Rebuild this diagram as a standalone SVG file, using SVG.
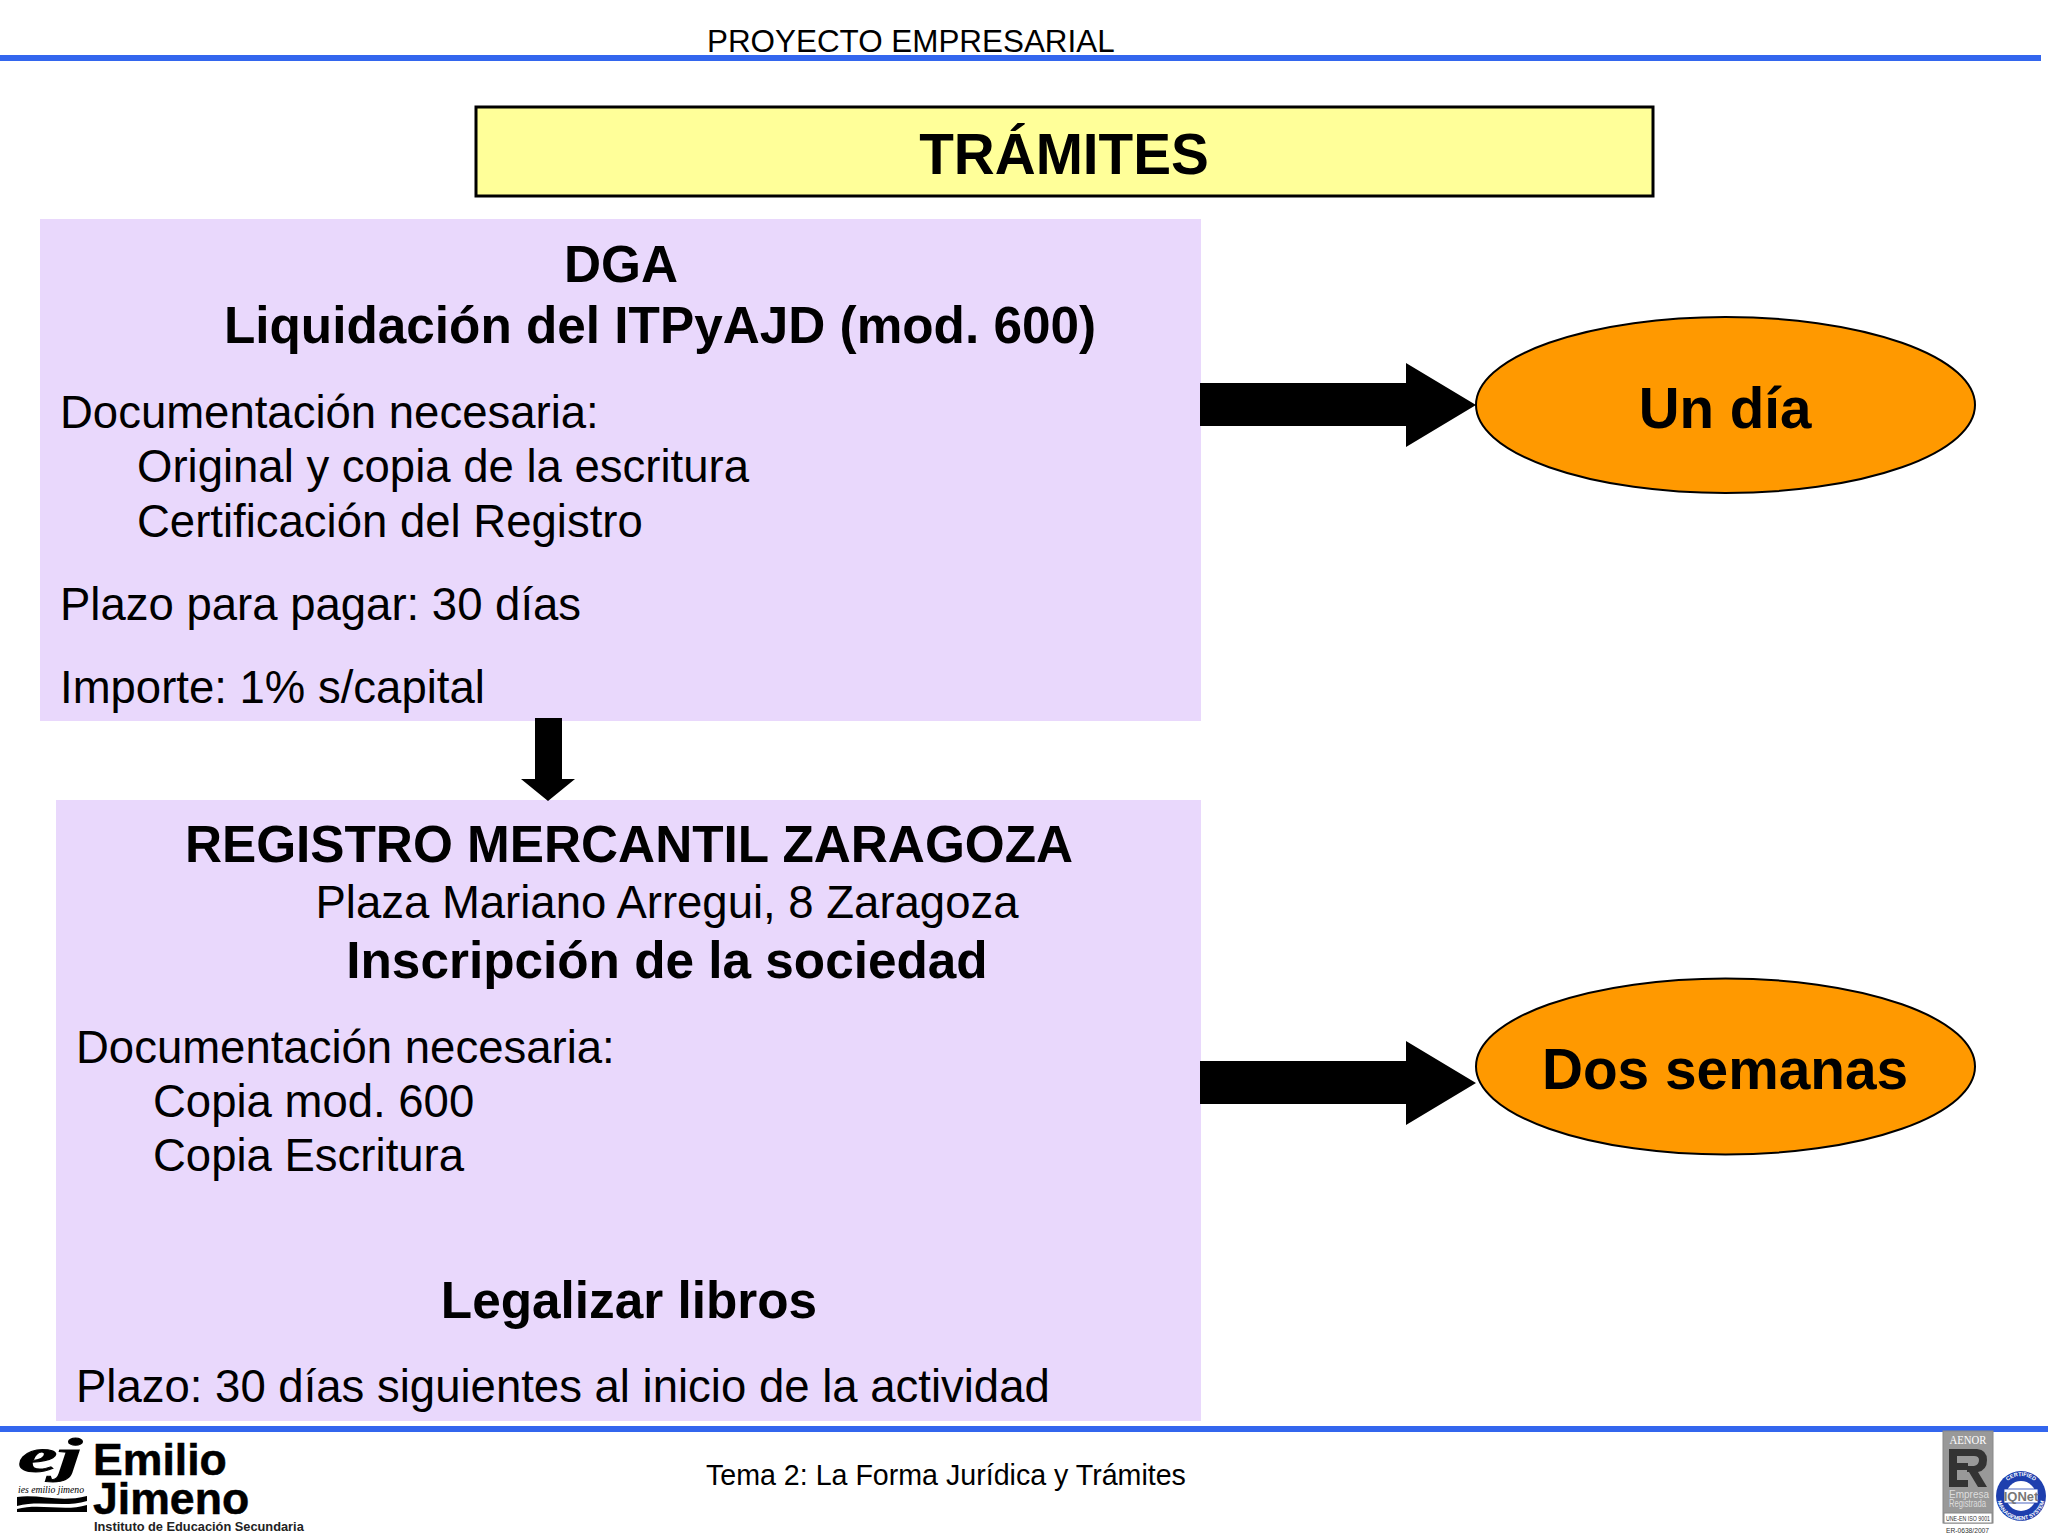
<svg xmlns="http://www.w3.org/2000/svg" width="2048" height="1536" viewBox="0 0 2048 1536">
<style>
text{font-family:"Liberation Sans",Arial,sans-serif;fill:#000}
.b{font-weight:bold}
.h{font-size:51.3px;font-weight:bold}
.t{font-size:45.5px}
.m{text-anchor:middle}
.box{fill:#e9d8fc}
.rule{fill:#3366ee}
.ell{fill:#ff9900;stroke:#000;stroke-width:2}
.serif{font-family:"Liberation Serif",serif}
.ring{fill:#fff;font-weight:bold;font-size:5.5px}
.pale{fill:#ddd;font-size:10px}
.er{fill:#333}
</style>
<defs>
<path id="ringTop" d="M2001 1496A20 20 0 0 1 2041 1496"/>
<path id="ringBot" d="M1997 1496A24 24 0 0 0 2045 1496"/>
</defs>
<rect width="2048" height="1536" fill="#fff"/>
<g id="header">
<rect class="rule" x="0" y="55" width="2041" height="6"/>
<text x="707" y="52" font-size="31.4">PROYECTO EMPRESARIAL</text>
</g>
<g id="title">
<rect x="476" y="107" width="1177" height="89" fill="#ffff99" stroke="#000" stroke-width="3"/>
<text class="m b" x="1064" y="174" font-size="56.7">TRÁMITES</text>
</g>
<g id="dga">
<rect class="box" x="40" y="219" width="1161" height="502"/>
<text class="h m" x="621" y="282">DGA</text>
<text class="h m" x="660" y="343">Liquidación del ITPyAJD (mod. 600)</text>
<text class="t" x="60" y="427.5">Documentación necesaria:</text>
<text class="t" x="137" y="482">Original y copia de la escritura</text>
<text class="t" x="137" y="536.5">Certificación del Registro</text>
<text class="t" x="60" y="619.5">Plazo para pagar: 30 días</text>
<text class="t" x="60" y="702.5">Importe: 1% s/capital</text>
</g>
<g id="registro">
<rect class="box" x="56" y="800" width="1145" height="621"/>
<text class="h m" x="629" y="862">REGISTRO MERCANTIL ZARAGOZA</text>
<text class="t m" x="667" y="918">Plaza Mariano Arregui, 8 Zaragoza</text>
<text class="h m" x="667" y="978">Inscripción de la sociedad</text>
<text class="t" x="76" y="1062.5">Documentación necesaria:</text>
<text class="t" x="153" y="1117">Copia mod. 600</text>
<text class="t" x="153" y="1171">Copia Escritura</text>
<text class="h m" x="629" y="1318">Legalizar libros</text>
<text class="t" x="76" y="1402">Plazo: 30 días siguientes al inicio de la actividad</text>
</g>
<g id="undia">
<ellipse class="ell" cx="1725.5" cy="405" rx="249.5" ry="88"/>
<text class="m b" x="1725" y="428" font-size="56.5">Un día</text>
</g>
<g id="dossemanas">
<ellipse class="ell" cx="1725.5" cy="1066.5" rx="249.5" ry="88"/>
<text class="m b" x="1725" y="1089" font-size="56.8">Dos semanas</text>
</g>
<g id="connectors">
<polygon points="1200,383 1406,383 1406,363 1476,405 1406,447 1406,426 1200,426"/>
<polygon points="1200,1061 1406,1061 1406,1041 1476,1083 1406,1125 1406,1104 1200,1104"/>
<polygon points="535,718 562,718 562,779 575,779 548,801 521,779 535,779"/>
</g>
<g id="footer">
<rect class="rule" x="0" y="1426" width="2048" height="6"/>
<text x="706" y="1485" font-size="28.6">Tema 2: La Forma Jurídica y Trámites</text>
</g>
<g id="logo">
<text class="serif b" x="18" y="1472" font-size="48" font-style="italic" stroke="#000" stroke-width="1" textLength="64" lengthAdjust="spacingAndGlyphs">ej</text>
<text class="serif" x="18" y="1493" font-size="10.5" font-style="italic" textLength="66" lengthAdjust="spacingAndGlyphs">ies emilio jimeno</text>
<path d="M17 1497C40 1494 60 1503 87 1496V1501C65 1508 40 1500 17 1506Z"/>
<path d="M17 1509C40 1503 65 1512 87 1505V1512H17Z"/>
<text class="b" x="93" y="1475" font-size="44.6" stroke="#000" stroke-width=".5">Emilio</text>
<text class="b" x="93" y="1514" font-size="44.6" stroke="#000" stroke-width=".5">Jimeno</text>
<text class="b" x="94" y="1531" font-size="12.8" style="fill:#222">Instituto de Educación Secundaria</text>
</g>
<g id="certificacion">
<rect x="1943" y="1431" width="50" height="92" fill="#999" stroke="#888"/>
<text class="serif m" x="1968" y="1444" font-size="13" style="fill:#fff" textLength="37" lengthAdjust="spacingAndGlyphs">AENOR</text>
<path class="er" d="M1949 1449H1968V1456H1957V1463H1968V1470H1957V1480H1968V1487H1949Z"/>
<path class="er" d="M1968 1449H1977Q1987 1450 1987 1460Q1987 1470 1978 1472L1987 1487H1978L1969 1472H1967V1466H1974Q1979 1465 1979 1460Q1979 1456 1974 1456H1968Z"/>
<text class="pale" x="1949" y="1498">Empresa</text>
<text class="pale" x="1949" y="1507" textLength="37" lengthAdjust="spacingAndGlyphs">Registrada</text>
<rect x="1944" y="1513" width="48" height="10" fill="#fff" stroke="#888"/>
<text class="m" x="1968" y="1521" font-size="6.5" textLength="44" lengthAdjust="spacingAndGlyphs" style="fill:#333">UNE-EN ISO 9001</text>
<text class="m" x="1967.5" y="1533" font-size="8" textLength="43" lengthAdjust="spacingAndGlyphs" style="fill:#333">ER-0638/2007</text>
<circle cx="2021" cy="1496" r="25" fill="#1e3fae"/>
<circle cx="2021" cy="1496" r="15" fill="#fff"/>
<rect x="2004" y="1489" width="34" height="14" fill="#fff" stroke="#1e3fae" stroke-width=".8"/>
<text class="m b" x="2021" y="1501" font-size="13" style="fill:#777">IQNet</text>
<text class="ring m"><textPath href="#ringTop" startOffset="50%">CERTIFIED</textPath></text>
<text class="ring m"><textPath href="#ringBot" startOffset="50%">MANAGEMENT SYSTEM</textPath></text>
</g>
</svg>
